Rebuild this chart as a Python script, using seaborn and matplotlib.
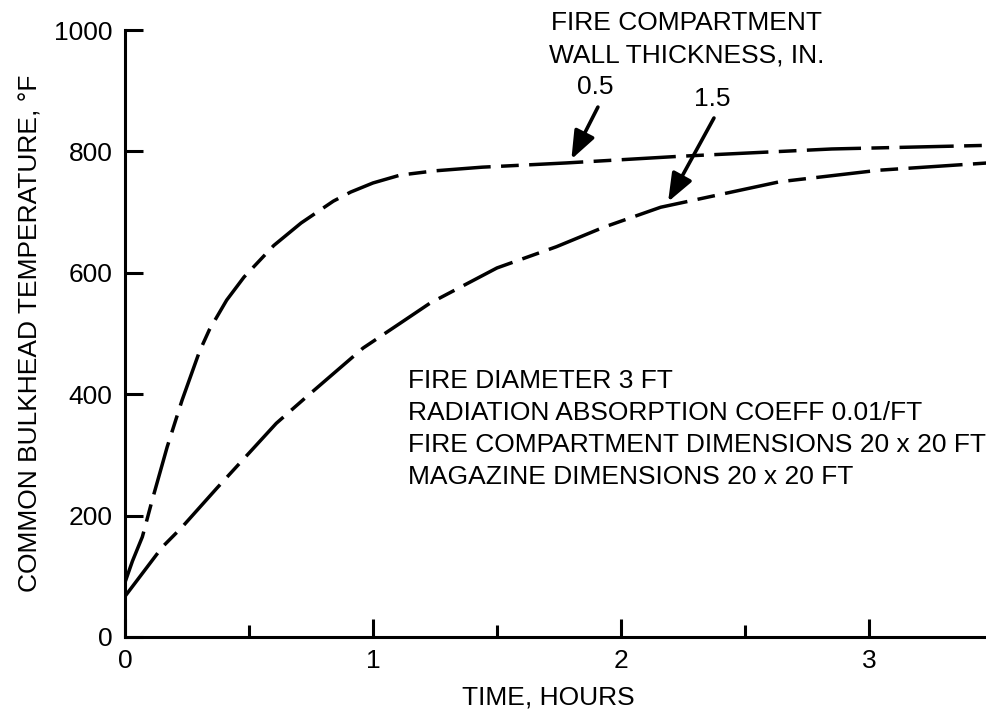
import numpy as np
import pandas as pd
import matplotlib
matplotlib.use("Agg")
import matplotlib.pyplot as plt
import seaborn as sns

# Curva 0.5 in
t_05 = [0, 0.03, 0.07, 0.11, 0.17, 0.23, 0.30, 0.34, 0.41, 0.48, 0.60, 0.71, 0.84,
        0.91, 1.00, 1.11, 1.25, 1.44, 1.78, 2.24, 2.85, 3.48]
temp_05 = [90, 125, 165, 226, 313, 390, 470, 506, 555, 593, 645, 682, 718,
           733, 748, 761, 768, 774, 781, 792, 804, 810]

# Curva 1.5 in
t_15 = [0, 0.15, 0.23, 0.37, 0.61, 0.73, 0.96, 1.11, 1.23, 1.50, 1.74, 1.93,
        2.16, 2.64, 3.04, 3.48]
temp_15 = [67, 148, 181, 245, 352, 395, 476, 517, 550, 608, 643, 675,
           708, 750, 769, 781]

x_ticks = [0, 1, 2, 3]
x_minor = [0.5, 1.5, 2.5]
y_ticks = [0, 200, 400, 600, 800, 1000]

notas = ["FIRE DIAMETER 3 FT",
         "RADIATION ABSORPTION COEFF 0.01/FT",
         "FIRE COMPARTMENT DIMENSIONS 20 x 20 FT",
         "MAGAZINE DIMENSIONS 20 x 20 FT"]

sns.set_style("ticks")
plt.rcParams['font.family'] = ['Liberation Sans', 'DejaVu Sans']
plt.rcParams['font.size'] = 19
plt.rcParams['text.color'] = 'black'
plt.rcParams['axes.labelcolor'] = 'black'
plt.rcParams['xtick.color'] = 'black'
plt.rcParams['ytick.color'] = 'black'

fig = plt.figure(figsize=(9.87, 7.12), dpi=100)
ax = fig.add_axes([125 / 987, 75 / 712, (987 - 125) / 987, (637 - 30) / 712])

traco = (0, (15.6, 3, 5.1, 3))
sns.lineplot(x=t_05, y=temp_05, ax=ax, color="black", lw=2.5, linestyle=traco)
sns.lineplot(x=t_15, y=temp_15, ax=ax, color="black", lw=2.5, linestyle=traco)

ax.set_xlim(0, 3.476)
ax.set_ylim(0, 1000)
ax.set_xticks(x_ticks)
ax.set_xticks(x_minor, minor=True)
ax.set_yticks(y_ticks)
ax.tick_params(axis="both", which="major", direction="in", length=13, width=2.2,
               labelsize=19, pad=9, color="black", labelcolor="black")
ax.tick_params(axis="x", which="minor", direction="in", length=9, width=2.2)
sns.despine(ax=ax)
for s in ["left", "bottom"]:
    ax.spines[s].set_linewidth(2.2)
    ax.spines[s].set_color("black")

ax.set_xlabel("TIME, HOURS", fontsize=19)
ax.xaxis.set_label_coords(0.491, -0.080)
ax.set_ylabel("COMMON BULKHEAD TEMPERATURE, °F", fontsize=19, labelpad=8)

# Titulo da legenda
ax.text(2.266, 1011, "FIRE COMPARTMENT", ha="center", va="center", fontsize=19, clip_on=False)
ax.text(2.266, 958, "WALL THICKNESS, IN.", ha="center", va="center", fontsize=19, clip_on=False)

# Setas
seta = dict(arrowstyle="-|>,head_length=0.9,head_width=0.35", color="black", lw=2.6,
            shrinkA=0, shrinkB=0)
ax.text(1.895, 906, "0.5", ha="center", va="center", fontsize=19)
ax.annotate("", xy=(1.80, 787), xytext=(1.907, 873), arrowprops=seta)
ax.text(2.367, 886, "1.5", ha="center", va="center", fontsize=19)
ax.annotate("", xy=(2.19, 717), xytext=(2.375, 855), arrowprops=seta)

# Notas
for i, n in enumerate(notas):
    ax.text(1.141, 422 - i * 53, n, ha="left", va="center", fontsize=19)

fig.savefig("out.png", dpi=100)
